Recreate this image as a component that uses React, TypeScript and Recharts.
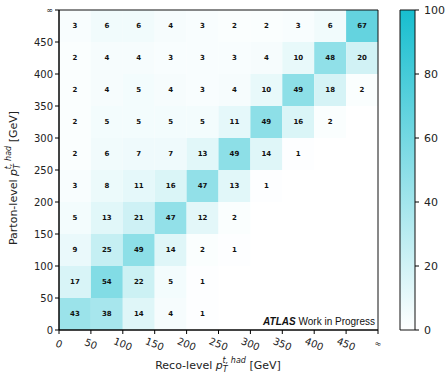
import { ScatterChart, Scatter, XAxis, YAxis, ReferenceArea } from "recharts";

// tick labels for both axes (bin edges in GeV)
const binLabels = ["0", "50", "100", "150", "200", "250", "300", "350", "400", "450", "∞"];

// migration matrix, one array per parton-level bin (bottom to top), reco bins left to right
const parton0 = [43, 38, 14, 4, 1];
const parton50 = [17, 54, 22, 5, 1];
const parton100 = [9, 25, 49, 14, 2, 1];
const parton150 = [5, 13, 21, 47, 12, 2];
const parton200 = [3, 8, 11, 16, 47, 13, 1];
const parton250 = [2, 6, 7, 7, 13, 49, 14, 1];
const parton300 = [2, 5, 5, 5, 5, 11, 49, 16, 2];
const parton350 = [2, 4, 5, 4, 3, 4, 10, 49, 18, 2];
const parton400 = [2, 4, 4, 3, 3, 3, 4, 10, 48, 20];
const parton450 = [3, 6, 6, 4, 3, 2, 2, 3, 6, 67];

const rows = [parton0, parton50, parton100, parton150, parton200, parton250, parton300, parton350, parton400, parton450];
const colorbarTicks = [0, 20, 40, 60, 80, 100];

const cells = rows.flatMap((row, j) => row.map((v, i) => ({ x: i, y: j, v })));
const binTicks = binLabels.map((_, i) => i);

const cellColor = (v: number) => {
  const t = Math.min(v / 100, 1);
  const r = Math.round(255 + (23 - 255) * t);
  const g = Math.round(255 + (190 - 255) * t);
  const b = Math.round(255 + (207 - 255) * t);
  return `rgb(${r},${g},${b})`;
};

const font = "DejaVu Sans, sans-serif";

const XTick = ({ x, y, payload }: any) => (
  <text
    x={x}
    y={y + 8}
    transform={`rotate(22 ${x} ${y + 8})`}
    textAnchor="middle"
    dominantBaseline="central"
    fontSize={payload.value === 10 ? 8 : 10}
    fontFamily={font}
    fill="#222"
  >
    {binLabels[payload.value]}
  </text>
);

const YTick = ({ x, y, payload }: any) => (
  <text x={x} y={y} textAnchor="end" dominantBaseline="central" fontSize={payload.value === 10 ? 8 : 10} fontFamily={font} fill="#222">
    {binLabels[payload.value]}
  </text>
);

const App = () => {
  return (
    <div style={{ position: "absolute", left: 0, top: 0, width: 448, height: 379, background: "#fff" }}>
      <svg width={0} height={0} style={{ position: "absolute" }}>
        <defs>
          <linearGradient id="cbar" x1="0" y1="1" x2="0" y2="0">
            <stop offset="0%" stopColor={cellColor(0)} />
            <stop offset="100%" stopColor={cellColor(100)} />
          </linearGradient>
        </defs>
      </svg>

      <div style={{ position: "absolute", left: 0, top: 0 }}>
        <ScatterChart width={448} height={379} margin={{ top: 10, right: 70, bottom: 0, left: 0 }}>
          <XAxis
            type="number"
            dataKey="x"
            domain={[0, 10]}
            ticks={binTicks}
            interval={0}
            height={49}
            tick={<XTick />}
            tickLine={{ stroke: "#000" }}
            axisLine={{ stroke: "#000" }}
            tickSize={4}
          />
          <YAxis
            type="number"
            dataKey="y"
            domain={[0, 10]}
            ticks={binTicks}
            interval={0}
            width={59}
            tick={<YTick />}
            tickLine={{ stroke: "#000" }}
            axisLine={{ stroke: "#000" }}
            tickSize={4}
          />
          {cells.map((c) => (
            <ReferenceArea
              key={`${c.x}-${c.y}`}
              x1={c.x}
              x2={c.x + 1}
              y1={c.y}
              y2={c.y + 1}
              fill={cellColor(c.v)}
              fillOpacity={1}
              stroke="none"
              ifOverflow="visible"
              label={{ value: c.v, position: "center", fontSize: 7, fontWeight: "bold", fill: "#111", fontFamily: font }}
            />
          ))}
          <ReferenceArea x1={0} x2={10} y1={0} y2={10} fill="none" stroke="#111" strokeWidth={1} ifOverflow="visible" />
          <Scatter data={cells} shape={() => <g />} isAnimationActive={false} />
        </ScatterChart>
      </div>

      <div style={{ position: "absolute", left: 380, top: 0 }}>
        <ScatterChart width={68} height={379} margin={{ top: 10, right: 0, bottom: 49, left: 20 }}>
          <XAxis type="number" dataKey="x" domain={[0, 1]} hide />
          <YAxis
            type="number"
            dataKey="y"
            orientation="right"
            domain={[0, 100]}
            ticks={colorbarTicks}
            width={33}
            tick={{ fontSize: 11, fontFamily: font, fill: "#222" }}
            tickLine={{ stroke: "#000" }}
            axisLine={false}
            tickSize={4}
            tickMargin={5}
          />
          <ReferenceArea x1={0} x2={1} y1={0} y2={100} fill="url(#cbar)" fillOpacity={1} stroke="#111" strokeWidth={1} ifOverflow="visible" />
          <Scatter data={[{ x: 0.5, y: 0 }]} shape={() => <g />} isAnimationActive={false} />
        </ScatterChart>
      </div>

      <svg width={448} height={379} style={{ position: "absolute", left: 0, top: 0, pointerEvents: "none" }}>
        <text x={375} y={325} textAnchor="end" fontSize={10} fontFamily="Liberation Sans, Arial, sans-serif" fill="#111">
          <tspan fontWeight="bold" fontStyle="italic">ATLAS</tspan>
          <tspan> Work in Progress</tspan>
        </text>
        <text x={218} y={369} textAnchor="middle" fontSize={11} fontFamily={font} fill="#222">
          <tspan>Reco-level </tspan>
          <tspan fontStyle="italic">p</tspan>
          <tspan fontStyle="italic" fontSize={8} dy={3}>T</tspan>
          <tspan fontStyle="italic" fontSize={8} dx={-5} dy={-9}>t, had</tspan>
          <tspan dy={6}> [GeV]</tspan>
        </text>
        <text x={0} y={0} transform="translate(17 178) rotate(-90)" textAnchor="middle" fontSize={11} fontFamily={font} fill="#222">
          <tspan>Parton-level </tspan>
          <tspan fontStyle="italic">p</tspan>
          <tspan fontStyle="italic" fontSize={8} dy={3}>T</tspan>
          <tspan fontStyle="italic" fontSize={8} dx={-5} dy={-9}>t, had</tspan>
          <tspan dy={6}> [GeV]</tspan>
        </text>
      </svg>
    </div>
  );
};

export default App;
